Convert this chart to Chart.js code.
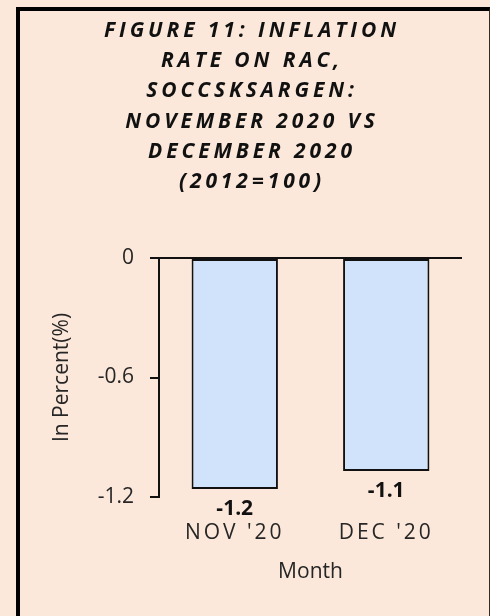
<!DOCTYPE html>
<html>
<head>
<meta charset="utf-8">
<script src="https://cdn.jsdelivr.net/npm/chart.js@4/dist/chart.umd.min.js"></script>
<style>
    html, body { margin:0; padding:0; background:#FCE8DA; }
    #wrap { position:relative; width:490px; height:616px; }
    #plot { position:absolute; left:0; top:0; }
    #frame {
        position:absolute; left:16px; top:7px; width:469px; height:609px;
        border-left:4px solid #000; border-top:4px solid #000; border-right:1px solid #3a2a20;
        pointer-events:none;
    }
</style>
</head>
<body>
<div id="wrap">
    <canvas id="plot" width="490" height="616"></canvas>
    <div id="frame"></div>
</div>
<script>
// chart data
const months = ["NOV '20", "DEC '20"];
const inflation = [-1.16, -1.07];
const yTicks = [0, -0.6, -1.2];
const titleLines = [
    "FIGURE 11: INFLATION",
    "RATE ON RAC,",
    "SOCCSKSARGEN:",
    "NOVEMBER 2020 VS",
    "DECEMBER 2020",
    "(2012=100)"
];

const FONT = "'Open Sans', 'Liberation Sans', sans-serif";
const TXT = "#262626";

// title block, drawn with letter spacing like the original
const titlePlugin = {
    id: 'spacedTitle',
    afterDraw: (chart) => {
        const ctx = chart.ctx;
        ctx.save();
        ctx.font = "italic bold 21px " + FONT;
        ctx.fillStyle = "#111";
        ctx.textAlign = "center";
        ctx.textBaseline = "middle";
        ctx.letterSpacing = "3.9px";
        for (let i = 0; i < titleLines.length; i++){
            ctx.fillText(titleLines[i], 252, 31 + i*30.2);
        }
        ctx.restore();
    }
};

// value labels under the bar ends
const valuePlugin = {
    id: 'valueLabels',
    afterDatasetsDraw: (chart) => {
        const ctx = chart.ctx;
        const meta = chart.getDatasetMeta(0);
        ctx.save();
        ctx.font = "bold 21px " + FONT;
        ctx.fillStyle = "#111";
        ctx.textAlign = "center";
        ctx.textBaseline = "middle";
        meta.data.forEach((bar, i) => {
            ctx.fillText(inflation[i].toFixed(1), bar.x, bar.y + 20);
        });
        ctx.restore();
    }
};

// letter spacing for the month labels
const spaceLabels = (scale) => {
    if (scale._spaced) return;
    scale._spaced = true;
    const orig = scale.drawLabels.bind(scale);
    scale.drawLabels = (area) => {
        const c = scale.ctx;
        const old = c.letterSpacing;
        c.letterSpacing = "3px";
        orig(area);
        c.letterSpacing = old;
    };
};

new Chart(document.getElementById('plot'), {
    type: 'bar',
    data: {
        labels: months,
        datasets: [{
            data: inflation,
            backgroundColor: "#D0E3FA",
            borderColor: "#111",
            borderWidth: 2,
            borderSkipped: false,
            barPercentage: 0.57,
            categoryPercentage: 1.0
        }]
    },
    options: {
        responsive: false,
        animation: false,
        events: [],
        layout: { padding: { top: 258, left: 45, right: 28, bottom: 24 } },
        plugins: { legend: { display: false }, tooltip: { enabled: false } },
        scales: {
            x: {
                grid: { display: false, drawTicks: false },
                border: { display: false },
                ticks: { color: TXT, font: { family: FONT, size: 21 }, padding: 23 },
                title: { display: true, text: "Month", color: TXT, font: { family: FONT, size: 21 }, padding: { top: 0, bottom: 7 } },
                afterFit: (scale) => { scale.height = 95; spaceLabels(scale); }
            },
            y: {
                min: -1.2, max: 0,
                afterBuildTicks: (scale) => { scale.ticks = yTicks.map(v => ({ value: v })); },
                grid: {
                    color: (c) => (c.tick && c.tick.value === 0) ? "#111" : "rgba(0,0,0,0)",
                    tickColor: "#111",
                    lineWidth: 2,
                    tickLength: 9
                },
                border: { display: true, color: "#111", width: 2 },
                ticks: { color: TXT, font: { family: FONT, size: 21 }, padding: 16, callback: (v) => String(v) },
                title: { display: true, text: "In Percent(%)", color: TXT, font: { family: FONT, size: 21 }, padding: { top: 4, bottom: 4 } },
                afterFit: (scale) => { scale.width = 114; }
            }
        }
    },
    plugins: [titlePlugin, valuePlugin]
});
</script>
</body>
</html>
